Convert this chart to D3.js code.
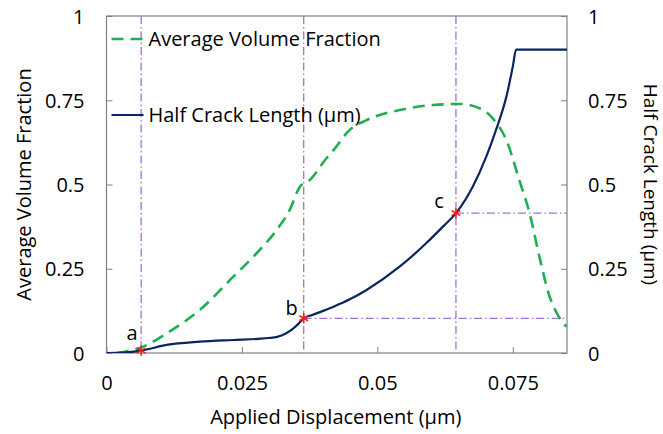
<!DOCTYPE html>
<html>
<head>
<meta charset="utf-8">
<script src="https://cdn.jsdelivr.net/npm/d3@7"></script>
<style>
  html, body { margin: 0; padding: 0; background: #fff; overflow: hidden; }
  svg { display: block; }
</style>
</head>
<body>
<div id="chart"></div>
<script>
// Half crack length (right axis, µm) vs applied displacement (µm)
const crackX = [0, 0.003, 0.0064, 0.0111, 0.0172, 0.0234, 0.028, 0.030, 0.0315, 0.033, 0.0345, 0.0355,
  0.0364, 0.038, 0.040, 0.042, 0.045, 0.048, 0.0541, 0.059, 0.0621, 0.0645, 0.0676, 0.0701, 0.0719,
  0.0738, 0.075, 0.0756, 0.085];
const crackY = [0, 0.001, 0.007, 0.024, 0.0335, 0.0386, 0.042, 0.0445, 0.048, 0.057, 0.073, 0.088,
  0.103, 0.113, 0.125, 0.138, 0.16, 0.187, 0.256, 0.3255, 0.375, 0.415, 0.4935, 0.5825, 0.662,
  0.76, 0.85, 0.9, 0.9];

// Average volume fraction (left axis)
const volX = [0.0019, 0.004, 0.0068, 0.0111, 0.0172, 0.0234, 0.0277, 0.0314, 0.0338, 0.0357, 0.0375,
  0.0406, 0.0418, 0.0449, 0.048, 0.0541, 0.0603, 0.0652, 0.0689, 0.0713, 0.0738, 0.0762, 0.0781,
  0.0799, 0.0818, 0.0833, 0.0849];
const volY = [0, 0.006, 0.019, 0.058, 0.1276, 0.2264, 0.296, 0.365, 0.424, 0.4935, 0.513,
  0.578, 0.6, 0.662, 0.691, 0.721, 0.736, 0.739, 0.726, 0.696, 0.632, 0.513, 0.4145,
  0.286, 0.167, 0.113, 0.078];

// marked states a, b, c on the crack curve
const markLabels = ["a", "b", "c"];
const markX = [0.0064, 0.0364, 0.0645];
const markY = [0.007, 0.103, 0.415];

const xTicks = [0, 0.025, 0.05, 0.075];
const yTicks = [0, 0.25, 0.5, 0.75, 1];

const width = 663, height = 434;
const margin = { top: 16, right: 96, bottom: 81, left: 106.5 };
const innerWidth = width - margin.left - margin.right;
const innerHeight = height - margin.top - margin.bottom;

const green = "#1fae50", navy = "#0b2462", purple = "#a270d6", frame = "#808080";
const font = "'Open Sans', Lato, sans-serif";
const fontSize = 20;

const svg = d3.select("#chart").append("svg")
  .attr("width", width)
  .attr("height", height)
  .attr("font-family", font)
  .attr("font-size", fontSize);

const g = svg.append("g").attr("transform", `translate(${margin.left},${margin.top})`);

const x = d3.scaleLinear().domain([0, 0.085]).range([0, innerWidth]);
const yL = d3.scaleLinear().domain([0, 1]).range([innerHeight, 0]);
const yR = d3.scaleLinear().domain([0, 1]).range([innerHeight, 0]);

const fmt = (d) => (d === 0 ? "0" : String(d));

// Axes (inward ticks)
const xAxis = g.append("g").attr("transform", `translate(0,${innerHeight})`)
  .call(d3.axisBottom(x).tickValues(xTicks).tickSize(-6).tickPadding(22).tickFormat(fmt));
const leftAxis = g.append("g")
  .call(d3.axisLeft(yL).tickValues(yTicks).tickSize(-6).tickPadding(22).tickFormat(fmt));
const rightAxis = g.append("g").attr("transform", `translate(${innerWidth},0)`)
  .call(d3.axisRight(yR).tickValues(yTicks).tickSize(-6).tickPadding(21).tickFormat(fmt));

[xAxis, leftAxis, rightAxis].forEach((a) => {
  a.attr("font-family", font).attr("font-size", fontSize);
  a.select(".domain").remove();
  a.selectAll("line").attr("stroke", frame);
  a.selectAll("text").attr("fill", "#000").attr("dy", null);
});
// put baselines explicitly instead of em offsets
xAxis.selectAll("text").attr("y", 37);
leftAxis.selectAll("text").attr("y", 7);
rightAxis.selectAll("text").attr("y", 7);

g.append("rect")
  .attr("width", innerWidth).attr("height", innerHeight)
  .attr("fill", "none").attr("stroke", frame).attr("stroke-width", 1.2);

g.append("clipPath").attr("id", "clip").append("rect")
  .attr("width", innerWidth).attr("height", innerHeight);

const plot = g.append("g").attr("clip-path", "url(#clip)");

// Guide lines
const guide = plot.append("g")
  .attr("stroke", purple).attr("stroke-width", 1.3).attr("stroke-dasharray", "8,3,1.5,3").attr("fill", "none");
markX.forEach((mx, i) => {
  guide.append("line")
    .attr("x1", x(mx)).attr("x2", x(mx)).attr("y1", 0).attr("y2", innerHeight);
  if (i > 0) {
    guide.append("line")
      .attr("x1", x(mx)).attr("x2", innerWidth).attr("y1", yR(markY[i])).attr("y2", yR(markY[i]));
  }
});

// Volume fraction (dashed green)
const volLine = d3.line().curve(d3.curveMonotoneX).x((d) => x(d[0])).y((d) => yL(d[1]));
plot.append("path")
  .datum(volX.map((v, i) => [v, volY[i]]))
  .attr("fill", "none").attr("stroke", green).attr("stroke-width", 2.6)
  .attr("stroke-dasharray", "12,7")
  .attr("d", volLine);

// Half crack length (solid navy)
const crackLine = d3.line().curve(d3.curveMonotoneX).x((d) => x(d[0])).y((d) => yR(d[1]));
plot.append("path")
  .datum(crackX.map((v, i) => [v, crackY[i]]))
  .attr("fill", "none").attr("stroke", navy).attr("stroke-width", 2.2)
  .attr("d", crackLine);

// Markers and labels
const star = d3.symbol().type(d3.symbolAsterisk).size(70);
g.selectAll(".mark")
  .data(markX)
  .join("path")
  .attr("class", "mark")
  .attr("transform", (d, i) => `translate(${x(d)},${yR(markY[i])})`)
  .attr("d", star)
  .attr("fill", "none").attr("stroke", "#ff1a1a").attr("stroke-width", 1.6);

const labelOffset = [[-9, -11], [-12, -3], [-17, -5]];
g.selectAll(".mlabel")
  .data(markLabels)
  .join("text")
  .attr("class", "mlabel")
  .attr("x", (d, i) => x(markX[i]) + labelOffset[i][0])
  .attr("y", (d, i) => yR(markY[i]) + labelOffset[i][1])
  .attr("text-anchor", "middle")
  .text((d) => d);

// Legend
const legend = g.append("g");
legend.append("line")
  .attr("x1", 5).attr("x2", 41).attr("y1", 23).attr("y2", 23)
  .attr("stroke", green).attr("stroke-width", 2.6).attr("stroke-dasharray", "12,7");
legend.append("text").attr("x", 42).attr("y", 30).text("Average Volume Fraction");
legend.append("line")
  .attr("x1", 5).attr("x2", 37).attr("y1", 99).attr("y2", 99)
  .attr("stroke", navy).attr("stroke-width", 2.2);
legend.append("text").attr("x", 42).attr("y", 106).text("Half Crack Length (µm)");

// Axis titles
svg.append("text")
  .attr("x", margin.left + innerWidth / 2 - 1).attr("y", 424)
  .attr("text-anchor", "middle")
  .text("Applied Displacement (µm)");
svg.append("text")
  .attr("transform", `translate(31,${margin.top + innerHeight / 2}) rotate(-90)`)
  .attr("text-anchor", "middle")
  .text("Average Volume Fraction");
svg.append("text")
  .attr("transform", `translate(644,${margin.top + innerHeight / 2}) rotate(90)`)
  .attr("text-anchor", "middle")
  .attr("font-size", 19)
  .text("Half Crack Length (µm)");
</script>
</body>
</html>
